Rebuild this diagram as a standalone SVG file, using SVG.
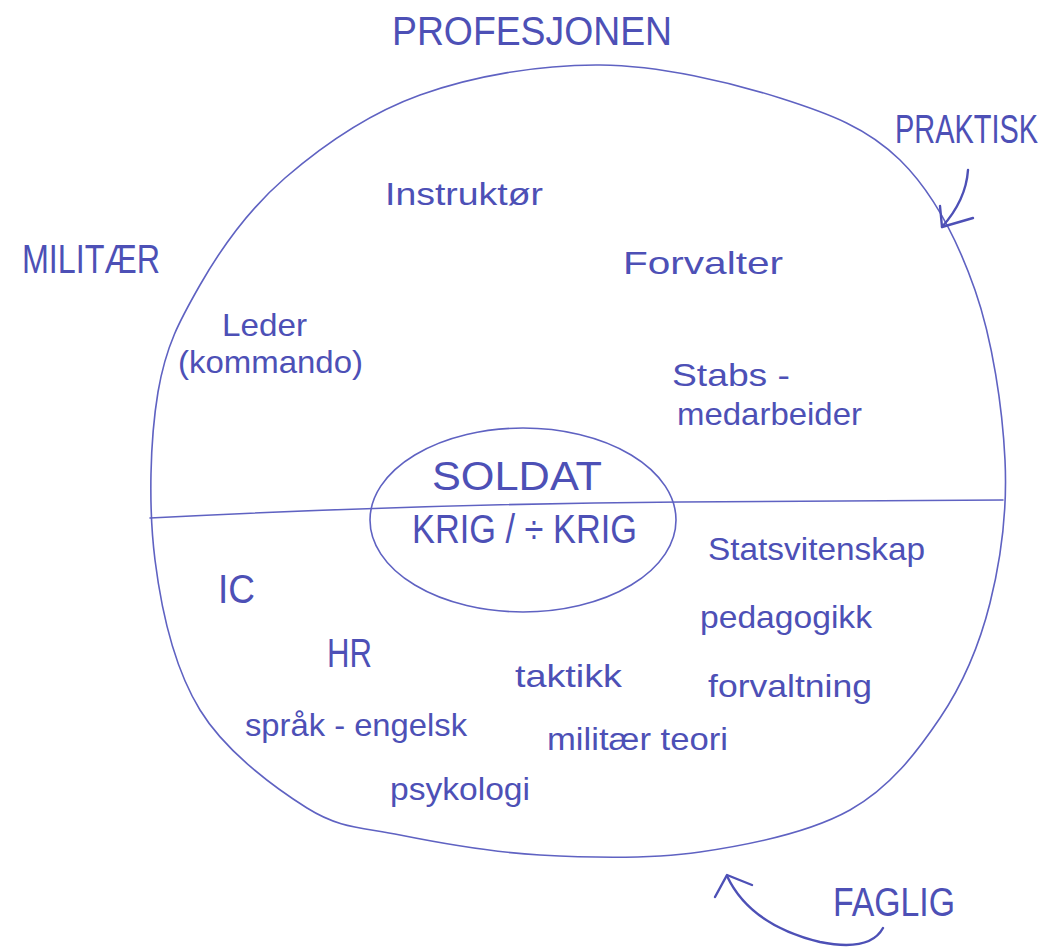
<svg xmlns="http://www.w3.org/2000/svg" width="1057" height="949" viewBox="0 0 1057 949">
<style>
  .ink { fill: #4d50b6; font-family: "Liberation Sans", "DejaVu Sans", sans-serif; }
  .cap { font-size: 40px; }
  .low { font-size: 32px; }
  .line { fill: none; stroke: #5f62c2; stroke-width: 1.6; stroke-linecap: round; stroke-linejoin: round; }
  .arrow { fill: none; stroke: #4d50b6; stroke-width: 2.4; stroke-linecap: round; stroke-linejoin: round; }
</style>
<rect width="1057" height="949" fill="#ffffff"/>

<g id="labels-outside">
  <text id="profesjonen" class="ink cap" x="392" y="45" textLength="280" lengthAdjust="spacingAndGlyphs">PROFESJONEN</text>
  <text id="praktisk" class="ink cap" x="895" y="143" font-size="30" textLength="143" lengthAdjust="spacingAndGlyphs">PRAKTISK</text>
  <text id="militaer" class="ink cap" x="22" y="273" font-size="34" textLength="138" lengthAdjust="spacingAndGlyphs">MILITÆR</text>
  <text id="faglig" class="ink cap" x="833" y="916" font-size="42" textLength="122" lengthAdjust="spacingAndGlyphs">FAGLIG</text>
</g>

<g id="profession-circle">
  <path class="line" d="M600,65 C660,65.5 730,82.2 780,98 C830,113.8 867.5,128 900,160 C932.5,192 957.5,240 975,290 C992.5,340 1002.5,407.8 1005,460 C1007.5,512.2 1000.8,560 990,603 C979.2,646 963.3,683.5 940,718 C916.7,752.5 890,787.7 850,810 C810,832.3 751.7,844.5 700,852 C648.3,859.5 590,857.8 540,855 C490,852.2 438.8,842.8 400,835 C361.2,827.2 340.3,828.8 307,808 C273.7,787.2 225.3,751.3 200,710 C174.7,668.7 161.7,613.3 155,560 C148.3,506.7 150,440 158,392 C166,345 180,320 200,285 C220,250 248,210 285,178 C322,146 366.7,114.2 420,95 C473.3,75.8 540,64.5 600,65 Z"/>
</g>

<g id="divider">
  <path class="line" d="M150,518 Q420,504 680,502 L1003,500"/>
</g>

<g id="soldat-circle">
  <ellipse class="line" cx="523" cy="520" rx="153" ry="92"/>
  <text id="soldat" class="ink cap" x="432" y="490" font-size="44" textLength="170" lengthAdjust="spacingAndGlyphs">SOLDAT</text>
  <text id="krig" class="ink cap" x="412" y="543" font-size="38" textLength="225" lengthAdjust="spacingAndGlyphs">KRIG / ÷ KRIG</text>
</g>

<g id="praktisk-roles">
  <text id="instruktor" class="ink low" x="385" y="205" font-size="36" textLength="158" lengthAdjust="spacingAndGlyphs">Instruktør</text>
  <text id="forvalter" class="ink low" x="623" y="274" font-size="33" textLength="160" lengthAdjust="spacingAndGlyphs">Forvalter</text>
  <text id="leder" class="ink low" x="222" y="336" font-size="27" textLength="85" lengthAdjust="spacingAndGlyphs">Leder</text>
  <text id="kommando" class="ink low" x="178" y="373" font-size="32" textLength="185" lengthAdjust="spacingAndGlyphs">(kommando)</text>
  <text id="stabs" class="ink low" x="672" y="386" font-size="30" textLength="118" lengthAdjust="spacingAndGlyphs">Stabs -</text>
  <text id="medarbeider" class="ink low" x="677" y="425" font-size="33" textLength="185" lengthAdjust="spacingAndGlyphs">medarbeider</text>
</g>

<g id="faglig-subjects">
  <text id="statsvitenskap" class="ink low" x="708" y="560" font-size="31" textLength="217" lengthAdjust="spacingAndGlyphs">Statsvitenskap</text>
  <text id="pedagogikk" class="ink low" x="700" y="628" font-size="31" textLength="172" lengthAdjust="spacingAndGlyphs">pedagogikk</text>
  <text id="forvaltning" class="ink low" x="708" y="697" font-size="33" textLength="164" lengthAdjust="spacingAndGlyphs">forvaltning</text>
  <text id="ic" class="ink cap" x="218" y="603" font-size="36" textLength="37" lengthAdjust="spacingAndGlyphs">IC</text>
  <text id="hr" class="ink cap" x="327" y="667" font-size="40" textLength="45" lengthAdjust="spacingAndGlyphs">HR</text>
  <text id="taktikk" class="ink low" x="515" y="687" font-size="36" textLength="107" lengthAdjust="spacingAndGlyphs">taktikk</text>
  <text id="sprak" class="ink low" x="245" y="736" font-size="32" textLength="222" lengthAdjust="spacingAndGlyphs">språk - engelsk</text>
  <text id="militaerteori" class="ink low" x="547" y="750" font-size="31" textLength="181" lengthAdjust="spacingAndGlyphs">militær teori</text>
  <text id="psykologi" class="ink low" x="390" y="800" font-size="31" textLength="140" lengthAdjust="spacingAndGlyphs">psykologi</text>
</g>

<g id="connectors">
  <path class="arrow" d="M968,170 Q966,200 942,227"/>
  <path class="arrow" d="M940,206 L942,227 L973,218"/>
  <path class="arrow" d="M883,928 Q870,952 820,942 Q750,925 727,876"/>
  <path class="arrow" d="M715,897 L727,875 L752,885"/>
</g>
</svg>
